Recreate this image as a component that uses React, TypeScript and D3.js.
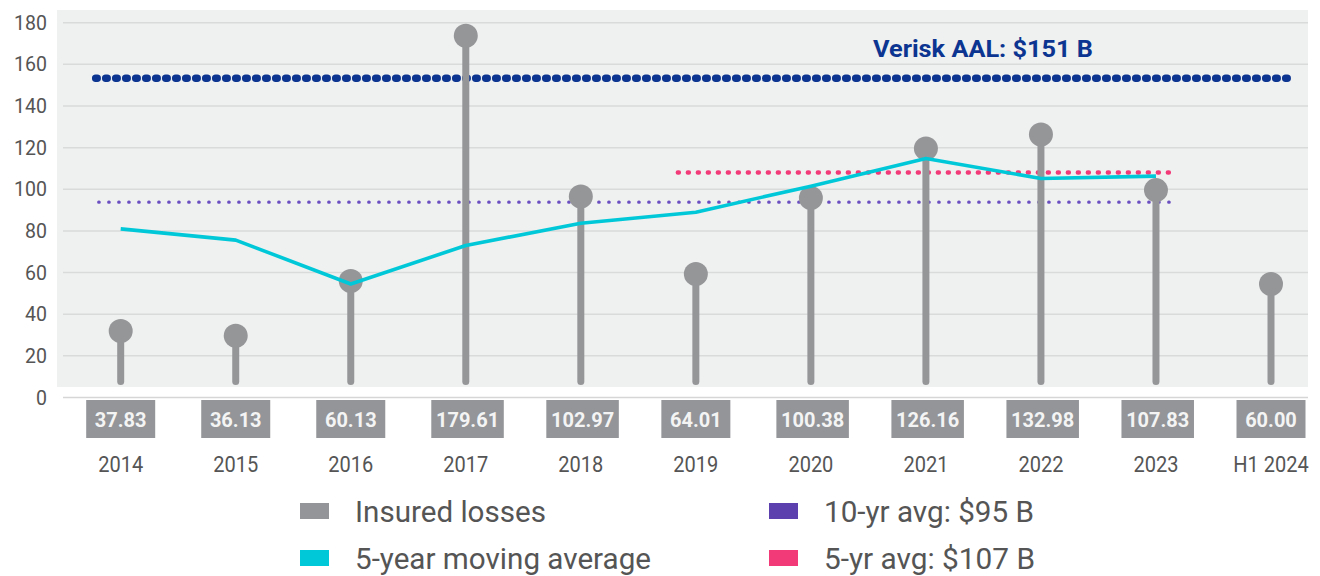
import React from "react";
import * as d3 from "d3";

const categories = ["2014", "2015", "2016", "2017", "2018", "2019", "2020", "2021", "2022", "2023", "H1 2024"];
const insuredLossLabels = ["37.83", "36.13", "60.13", "179.61", "102.97", "64.01", "100.38", "126.16", "132.98", "107.83", "60.00"];
// marker heights as drawn in the picture (axis units)
const markerHeights = [31.9, 29.7, 55.9, 173.7, 96.5, 59.3, 95.8, 119.6, 126.3, 99.6, 54.5];
const movingAvgCats = ["2014", "2015", "2016", "2017", "2018", "2019", "2020", "2021", "2022", "2023"];
const movingAvg = [81.0, 75.6, 54.5, 73.0, 83.7, 89.0, 101.5, 114.8, 105.2, 106.3];
const yTicks = [0, 20, 40, 60, 80, 100, 120, 140, 160, 180];
const veriskLevel = 153.3;
const tenYrLevel = 93.8;
const fiveYrLevel = 108.0;

const legendItems = [
  { label: "Insured losses", color: "#939598", col: 0, row: 0, len: 191 },
  { label: "5-year moving average", color: "#00c8d8", col: 0, row: 1, len: 296 },
  { label: "10-yr avg: $95 B", color: "#5b40ae", col: 1, row: 0, len: 210 },
  { label: "5-yr avg: $107 B", color: "#f23a78", col: 1, row: 1, len: 211 },
];

const FONT = "Roboto, 'Noto Sans', sans-serif";

export default function App() {
  const x = d3.scalePoint<string>().domain(categories).range([120.7, 1271]);
  const y = d3.scaleLinear().domain([0, 180]).range([397.5, 22.7]);
  const maLine = d3
    .line<number>()
    .x((_, i) => x(movingAvgCats[i]) as number)
    .y((d) => y(d));

  const gray = "#959698";
  const plotLeft = 57;
  const plotRight = 1308;
  const x0 = x("2014") as number;
  const x2019 = x("2019") as number;
  const x2023 = x("2023") as number;
  const xLast = x("H1 2024") as number;

  return (
    <svg
      width={1320}
      height={576}
      style={{ position: "absolute", left: 0, top: 0, background: "#fff" }}
      fontFamily={FONT}
    >
      {/* plot background */}
      <rect x={plotLeft} y={10} width={plotRight - plotLeft} height={377} fill="#eff0f0" />
      {/* gridlines */}
      {yTicks.map((t) => (
        <line
          key={"g" + t}
          x1={63}
          x2={plotRight}
          y1={y(t)}
          y2={y(t)}
          stroke={t === 0 ? "#d6d6d6" : "#d9dada"}
          strokeWidth={1.5}
        />
      ))}
      {/* y tick labels */}
      {yTicks.map((t) => (
        <text key={"t" + t} x={47} y={y(t) + 7} textAnchor="end" fontSize={19.5} fill="#555">
          {t}
        </text>
      ))}

      {/* Verisk AAL line */}
      <line
        x1={x0 - 25}
        x2={xLast + 19}
        y1={y(veriskLevel)}
        y2={y(veriskLevel)}
        stroke="#0b3591"
        strokeWidth={7.5}
        strokeLinecap="round"
        strokeDasharray="1.5 8.5"
      />
      <text x={873} y={57} fontSize={24} fontWeight={700} fill="#0b3591" textLength={220} lengthAdjust="spacingAndGlyphs">
        Verisk AAL: $151 B
      </text>

      {/* 10-yr avg */}
      <line
        x1={x0 - 22}
        x2={x2023 + 19}
        y1={y(tenYrLevel)}
        y2={y(tenYrLevel)}
        stroke="#6a4fc0"
        strokeWidth={3.2}
        strokeLinecap="round"
        strokeDasharray="0.5 9.5"
      />
      {/* 5-yr avg */}
      <line
        x1={x2019 - 18}
        x2={x2023 + 19}
        y1={y(fiveYrLevel)}
        y2={y(fiveYrLevel)}
        stroke="#f23a78"
        strokeWidth={4.5}
        strokeLinecap="round"
        strokeDasharray="1 9"
      />

      {/* lollipops */}
      {categories.map((c, i) => {
        const cx = x(c) as number;
        return (
          <g key={"l" + c}>
            <line x1={cx} x2={cx} y1={381.5} y2={y(markerHeights[i])} stroke={gray} strokeWidth={7} strokeLinecap="round" />
            <circle cx={cx} cy={y(markerHeights[i])} r={12} fill={gray} />
          </g>
        );
      })}

      {/* moving average */}
      <path d={maLine(movingAvg) || ""} fill="none" stroke="#00c8d8" strokeWidth={3.6} strokeLinejoin="round" />

      {/* value boxes and category labels */}
      {categories.map((c, i) => {
        const cx = x(c) as number;
        const label = insuredLossLabels[i];
        const w = label.length >= 6 ? 72.5 : 69;
        const left = cx - 34.5;
        return (
          <g key={"b" + c}>
            <rect x={left} y={400} width={w} height={38} fill="#939598" />
            <text x={left + w / 2} y={427} textAnchor="middle" fontSize={20} fontWeight={700} fill="#f4f4f4">
              {label}
            </text>
            <text
              transform={`translate(${cx},471.5) scale(0.89,1)`}
              textAnchor="middle"
              fontSize={22.5}
              fill="#555"
            >
              {c}
            </text>
          </g>
        );
      })}

      {/* legend */}
      {legendItems.map((it) => {
        const sx = it.col === 0 ? 300 : 769;
        const sy = it.row === 0 ? 503 : 550;
        return (
          <g key={it.label}>
            <rect x={sx} y={sy} width={29} height={16} fill={it.color} />
            <text
              x={sx + 55}
              y={sy + 19}
              fontSize={30}
              fill="#555"
              textLength={it.len}
              lengthAdjust="spacingAndGlyphs"
            >
              {it.label}
            </text>
          </g>
        );
      })}
    </svg>
  );
}
